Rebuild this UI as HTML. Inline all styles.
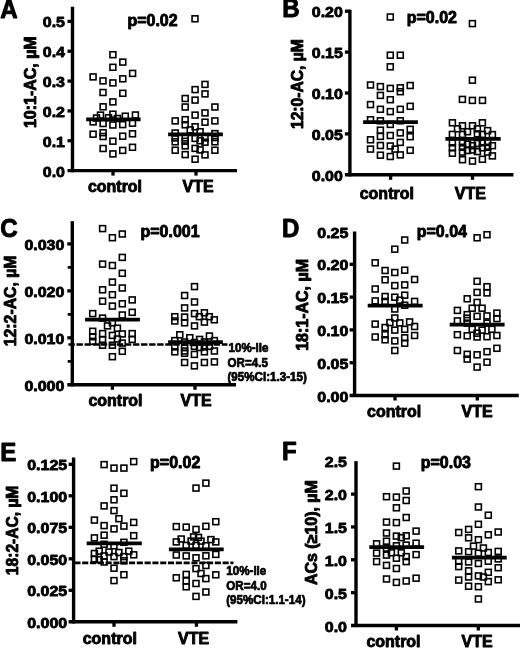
<!DOCTYPE html>
<html><head><meta charset="utf-8"><title>Figure</title>
<style>
html,body{margin:0;padding:0;background:#fff;}
svg{display:block;}
text{font-family:"Liberation Sans",Arial,sans-serif;font-weight:bold;fill:#000;stroke:#000;stroke-width:0.9px;stroke-linejoin:round;}
.tk{font-size:16.4px;text-anchor:end;}
.cat{font-size:16.4px;text-anchor:middle;}
.let{font-size:25.8px;}
.yl{font-size:16.4px;text-anchor:middle;}
.pv{font-size:16.4px;text-anchor:middle;}
.an{font-size:11.9px;stroke-width:0.7px;}
.ax{stroke:#000;stroke-width:3.4;fill:none;}
.tkl{stroke:#000;stroke-width:3.3;fill:none;}
.md{stroke:#000;stroke-width:3.7;fill:none;}
.ds{stroke:#000;stroke-width:2.6;fill:none;}
.pt{fill:none;stroke:#000;stroke-width:1.6;}
</style></head><body>
<svg width="520" height="648" viewBox="0 0 520 648">
<rect width="520" height="648" fill="#fff"/>

<g id="panelA">
<rect class="pt" x="109.95" y="51.75" width="5.9" height="5.9"/>
<rect class="pt" x="119.85" y="59.15" width="5.9" height="5.9"/>
<rect class="pt" x="109.95" y="64.35" width="5.9" height="5.9"/>
<rect class="pt" x="129.65" y="70.45" width="5.9" height="5.9"/>
<rect class="pt" x="90.15" y="73.95" width="5.9" height="5.9"/>
<rect class="pt" x="119.85" y="75.85" width="5.9" height="5.9"/>
<rect class="pt" x="100.05" y="77.95" width="5.9" height="5.9"/>
<rect class="pt" x="109.95" y="79.95" width="5.9" height="5.9"/>
<rect class="pt" x="100.05" y="89.55" width="5.9" height="5.9"/>
<rect class="pt" x="119.85" y="90.35" width="5.9" height="5.9"/>
<rect class="pt" x="109.95" y="98.95" width="5.9" height="5.9"/>
<rect class="pt" x="100.15" y="103.85" width="5.9" height="5.9"/>
<rect class="pt" x="109.95" y="111.25" width="5.9" height="5.9"/>
<rect class="pt" x="132.45" y="112.05" width="5.9" height="5.9"/>
<rect class="pt" x="97.55" y="112.15" width="5.9" height="5.9"/>
<rect class="pt" x="122.35" y="113.25" width="5.9" height="5.9"/>
<rect class="pt" x="93.55" y="115.05" width="5.9" height="5.9"/>
<rect class="pt" x="105.55" y="114.85" width="5.9" height="5.9"/>
<rect class="pt" x="114.55" y="115.55" width="5.9" height="5.9"/>
<rect class="pt" x="90.15" y="118.95" width="5.9" height="5.9"/>
<rect class="pt" x="100.15" y="120.55" width="5.9" height="5.9"/>
<rect class="pt" x="109.95" y="122.05" width="5.9" height="5.9"/>
<rect class="pt" x="119.75" y="121.65" width="5.9" height="5.9"/>
<rect class="pt" x="129.55" y="120.25" width="5.9" height="5.9"/>
<rect class="pt" x="90.15" y="131.25" width="5.9" height="5.9"/>
<rect class="pt" x="100.15" y="129.75" width="5.9" height="5.9"/>
<rect class="pt" x="100.15" y="133.55" width="5.9" height="5.9"/>
<rect class="pt" x="119.75" y="133.25" width="5.9" height="5.9"/>
<rect class="pt" x="129.55" y="130.85" width="5.9" height="5.9"/>
<rect class="pt" x="109.95" y="138.25" width="5.9" height="5.9"/>
<rect class="pt" x="100.15" y="145.55" width="5.9" height="5.9"/>
<rect class="pt" x="129.55" y="144.35" width="5.9" height="5.9"/>
<rect class="pt" x="119.75" y="147.45" width="5.9" height="5.9"/>
<rect class="pt" x="109.95" y="150.95" width="5.9" height="5.9"/>
<rect class="pt" x="192.05" y="15.85" width="5.9" height="5.9"/>
<rect class="pt" x="202.05" y="81.45" width="5.9" height="5.9"/>
<rect class="pt" x="192.15" y="86.65" width="5.9" height="5.9"/>
<rect class="pt" x="202.05" y="90.95" width="5.9" height="5.9"/>
<rect class="pt" x="182.25" y="95.55" width="5.9" height="5.9"/>
<rect class="pt" x="192.15" y="97.15" width="5.9" height="5.9"/>
<rect class="pt" x="182.25" y="104.05" width="5.9" height="5.9"/>
<rect class="pt" x="211.95" y="104.05" width="5.9" height="5.9"/>
<rect class="pt" x="202.05" y="109.95" width="5.9" height="5.9"/>
<rect class="pt" x="192.15" y="112.15" width="5.9" height="5.9"/>
<rect class="pt" x="172.25" y="117.95" width="5.9" height="5.9"/>
<rect class="pt" x="182.25" y="116.75" width="5.9" height="5.9"/>
<rect class="pt" x="211.95" y="117.95" width="5.9" height="5.9"/>
<rect class="pt" x="202.05" y="119.25" width="5.9" height="5.9"/>
<rect class="pt" x="182.25" y="121.85" width="5.9" height="5.9"/>
<rect class="pt" x="192.15" y="123.85" width="5.9" height="5.9"/>
<rect class="pt" x="187.25" y="126.95" width="5.9" height="5.9"/>
<rect class="pt" x="197.15" y="128.75" width="5.9" height="5.9"/>
<rect class="pt" x="172.25" y="130.05" width="5.9" height="5.9"/>
<rect class="pt" x="211.95" y="130.65" width="5.9" height="5.9"/>
<rect class="pt" x="192.15" y="135.45" width="5.9" height="5.9"/>
<rect class="pt" x="172.25" y="134.95" width="5.9" height="5.9"/>
<rect class="pt" x="182.25" y="134.95" width="5.9" height="5.9"/>
<rect class="pt" x="202.05" y="134.95" width="5.9" height="5.9"/>
<rect class="pt" x="211.95" y="134.65" width="5.9" height="5.9"/>
<rect class="pt" x="172.25" y="138.85" width="5.9" height="5.9"/>
<rect class="pt" x="182.25" y="138.35" width="5.9" height="5.9"/>
<rect class="pt" x="197.15" y="137.75" width="5.9" height="5.9"/>
<rect class="pt" x="202.05" y="139.25" width="5.9" height="5.9"/>
<rect class="pt" x="211.95" y="138.85" width="5.9" height="5.9"/>
<rect class="pt" x="182.25" y="142.95" width="5.9" height="5.9"/>
<rect class="pt" x="192.15" y="145.45" width="5.9" height="5.9"/>
<rect class="pt" x="197.15" y="146.95" width="5.9" height="5.9"/>
<rect class="pt" x="172.25" y="147.25" width="5.9" height="5.9"/>
<rect class="pt" x="211.95" y="147.25" width="5.9" height="5.9"/>
<rect class="pt" x="182.25" y="151.65" width="5.9" height="5.9"/>
<rect class="pt" x="202.05" y="151.95" width="5.9" height="5.9"/>
<rect class="pt" x="192.15" y="156.25" width="5.9" height="5.9"/>
<line class="md" x1="86.2" x2="140.6" y1="119.3" y2="119.3"/>
<line class="md" x1="168.1" x2="222.9" y1="134.4" y2="134.4"/>
<line class="ax" x1="72.5" x2="72.5" y1="6.8" y2="172.2"/>
<line class="ax" x1="67.5" x2="237" y1="170.6" y2="170.6"/>
<g transform="translate(65.0,176.6) scale(0.975,0.92)"><text class="tk">0.0</text></g>
<line class="tkl" x1="67.5" x2="72.5" y1="140.76" y2="140.76"/>
<g transform="translate(65.0,146.8) scale(0.975,0.92)"><text class="tk">0.1</text></g>
<line class="tkl" x1="67.5" x2="72.5" y1="110.92" y2="110.92"/>
<g transform="translate(65.0,116.9) scale(0.975,0.92)"><text class="tk">0.2</text></g>
<line class="tkl" x1="67.5" x2="72.5" y1="81.08" y2="81.08"/>
<g transform="translate(65.0,87.1) scale(0.975,0.92)"><text class="tk">0.3</text></g>
<line class="tkl" x1="67.5" x2="72.5" y1="51.24" y2="51.24"/>
<g transform="translate(65.0,57.2) scale(0.975,0.92)"><text class="tk">0.4</text></g>
<line class="tkl" x1="67.5" x2="72.5" y1="21.4" y2="21.4"/>
<g transform="translate(65.0,27.4) scale(0.975,0.92)"><text class="tk">0.5</text></g>
<line class="tkl" x1="113" x2="113" y1="170.6" y2="175.6"/>
<g transform="translate(115,191.6) scale(0.975,0.95)"><text class="cat">control</text></g>
<line class="tkl" x1="196" x2="196" y1="170.6" y2="175.6"/>
<g transform="translate(198,191.6) scale(0.975,0.95)"><text class="cat">VTE</text></g>
<g transform="translate(0.3,18.0) scale(0.935,1)"><text class="let">A</text></g>
<g transform="translate(35.5,82.2) rotate(-90) scale(0.975,0.95)"><text class="yl">10:1-AC, µM</text></g>
<g transform="translate(152.5,25.6) scale(0.975,1.03)"><text class="pv">p=0.02</text></g>
</g>
<g id="panelB">
<rect class="pt" x="387.35" y="14.05" width="5.9" height="5.9"/>
<rect class="pt" x="387.35" y="52.25" width="5.9" height="5.9"/>
<rect class="pt" x="397.35" y="52.25" width="5.9" height="5.9"/>
<rect class="pt" x="387.35" y="63.85" width="5.9" height="5.9"/>
<rect class="pt" x="367.55" y="82.05" width="5.9" height="5.9"/>
<rect class="pt" x="407.25" y="82.55" width="5.9" height="5.9"/>
<rect class="pt" x="377.45" y="83.65" width="5.9" height="5.9"/>
<rect class="pt" x="387.35" y="85.45" width="5.9" height="5.9"/>
<rect class="pt" x="397.35" y="84.85" width="5.9" height="5.9"/>
<rect class="pt" x="397.35" y="88.75" width="5.9" height="5.9"/>
<rect class="pt" x="377.45" y="92.45" width="5.9" height="5.9"/>
<rect class="pt" x="387.35" y="96.75" width="5.9" height="5.9"/>
<rect class="pt" x="367.55" y="101.65" width="5.9" height="5.9"/>
<rect class="pt" x="407.25" y="103.35" width="5.9" height="5.9"/>
<rect class="pt" x="377.45" y="106.35" width="5.9" height="5.9"/>
<rect class="pt" x="397.35" y="106.35" width="5.9" height="5.9"/>
<rect class="pt" x="387.35" y="108.65" width="5.9" height="5.9"/>
<rect class="pt" x="367.55" y="116.85" width="5.9" height="5.9"/>
<rect class="pt" x="377.45" y="117.85" width="5.9" height="5.9"/>
<rect class="pt" x="397.35" y="117.85" width="5.9" height="5.9"/>
<rect class="pt" x="387.35" y="121.45" width="5.9" height="5.9"/>
<rect class="pt" x="377.45" y="127.25" width="5.9" height="5.9"/>
<rect class="pt" x="407.25" y="126.35" width="5.9" height="5.9"/>
<rect class="pt" x="397.35" y="129.95" width="5.9" height="5.9"/>
<rect class="pt" x="387.35" y="132.55" width="5.9" height="5.9"/>
<rect class="pt" x="377.45" y="133.45" width="5.9" height="5.9"/>
<rect class="pt" x="407.25" y="133.75" width="5.9" height="5.9"/>
<rect class="pt" x="367.55" y="136.85" width="5.9" height="5.9"/>
<rect class="pt" x="397.35" y="139.45" width="5.9" height="5.9"/>
<rect class="pt" x="377.45" y="142.55" width="5.9" height="5.9"/>
<rect class="pt" x="387.35" y="143.05" width="5.9" height="5.9"/>
<rect class="pt" x="392.15" y="146.15" width="5.9" height="5.9"/>
<rect class="pt" x="367.55" y="146.15" width="5.9" height="5.9"/>
<rect class="pt" x="407.25" y="147.35" width="5.9" height="5.9"/>
<rect class="pt" x="377.45" y="152.25" width="5.9" height="5.9"/>
<rect class="pt" x="397.35" y="151.95" width="5.9" height="5.9"/>
<rect class="pt" x="387.35" y="153.55" width="5.9" height="5.9"/>
<rect class="pt" x="469.45" y="20.65" width="5.9" height="5.9"/>
<rect class="pt" x="469.45" y="77.25" width="5.9" height="5.9"/>
<rect class="pt" x="459.45" y="96.45" width="5.9" height="5.9"/>
<rect class="pt" x="469.45" y="97.45" width="5.9" height="5.9"/>
<rect class="pt" x="479.55" y="97.45" width="5.9" height="5.9"/>
<rect class="pt" x="449.45" y="119.85" width="5.9" height="5.9"/>
<rect class="pt" x="479.45" y="119.85" width="5.9" height="5.9"/>
<rect class="pt" x="459.55" y="122.85" width="5.9" height="5.9"/>
<rect class="pt" x="469.55" y="122.85" width="5.9" height="5.9"/>
<rect class="pt" x="454.55" y="125.85" width="5.9" height="5.9"/>
<rect class="pt" x="474.45" y="125.85" width="5.9" height="5.9"/>
<rect class="pt" x="484.65" y="127.65" width="5.9" height="5.9"/>
<rect class="pt" x="464.55" y="128.75" width="5.9" height="5.9"/>
<rect class="pt" x="449.45" y="131.45" width="5.9" height="5.9"/>
<rect class="pt" x="489.45" y="131.65" width="5.9" height="5.9"/>
<rect class="pt" x="459.55" y="131.45" width="5.9" height="5.9"/>
<rect class="pt" x="474.45" y="130.85" width="5.9" height="5.9"/>
<rect class="pt" x="479.45" y="131.45" width="5.9" height="5.9"/>
<rect class="pt" x="449.45" y="139.85" width="5.9" height="5.9"/>
<rect class="pt" x="449.45" y="144.85" width="5.9" height="5.9"/>
<rect class="pt" x="449.45" y="150.25" width="5.9" height="5.9"/>
<rect class="pt" x="459.55" y="139.85" width="5.9" height="5.9"/>
<rect class="pt" x="459.55" y="144.35" width="5.9" height="5.9"/>
<rect class="pt" x="459.55" y="149.15" width="5.9" height="5.9"/>
<rect class="pt" x="464.55" y="141.15" width="5.9" height="5.9"/>
<rect class="pt" x="469.55" y="142.75" width="5.9" height="5.9"/>
<rect class="pt" x="474.45" y="140.55" width="5.9" height="5.9"/>
<rect class="pt" x="479.45" y="139.85" width="5.9" height="5.9"/>
<rect class="pt" x="484.65" y="139.45" width="5.9" height="5.9"/>
<rect class="pt" x="489.45" y="142.75" width="5.9" height="5.9"/>
<rect class="pt" x="464.55" y="147.55" width="5.9" height="5.9"/>
<rect class="pt" x="469.55" y="147.05" width="5.9" height="5.9"/>
<rect class="pt" x="474.45" y="148.65" width="5.9" height="5.9"/>
<rect class="pt" x="479.45" y="144.85" width="5.9" height="5.9"/>
<rect class="pt" x="484.65" y="144.35" width="5.9" height="5.9"/>
<rect class="pt" x="484.65" y="149.15" width="5.9" height="5.9"/>
<rect class="pt" x="489.45" y="152.95" width="5.9" height="5.9"/>
<rect class="pt" x="459.55" y="156.75" width="5.9" height="5.9"/>
<rect class="pt" x="479.45" y="156.35" width="5.9" height="5.9"/>
<rect class="pt" x="469.55" y="158.15" width="5.9" height="5.9"/>
<line class="md" x1="363.1" x2="417.9" y1="122.1" y2="122.1"/>
<line class="md" x1="445.4" x2="500.7" y1="138.9" y2="138.9"/>
<line class="ax" x1="349.9" x2="349.9" y1="9.7" y2="176.4"/>
<line class="ax" x1="344.9" x2="513.4" y1="174.8" y2="174.8"/>
<g transform="translate(342.9,180.8) scale(0.975,0.92)"><text class="tk">0.00</text></g>
<line class="tkl" x1="344.9" x2="349.9" y1="133.9" y2="133.9"/>
<g transform="translate(342.9,139.9) scale(0.975,0.92)"><text class="tk">0.05</text></g>
<line class="tkl" x1="344.9" x2="349.9" y1="93.0" y2="93.0"/>
<g transform="translate(342.9,99.0) scale(0.975,0.92)"><text class="tk">0.10</text></g>
<line class="tkl" x1="344.9" x2="349.9" y1="52.1" y2="52.1"/>
<g transform="translate(342.9,58.1) scale(0.975,0.92)"><text class="tk">0.15</text></g>
<line class="tkl" x1="344.9" x2="349.9" y1="11.2" y2="11.2"/>
<g transform="translate(342.9,17.2) scale(0.975,0.92)"><text class="tk">0.20</text></g>
<line class="tkl" x1="390.6" x2="390.6" y1="174.8" y2="179.8"/>
<g transform="translate(386.8,199.4) scale(0.975,0.95)"><text class="cat">control</text></g>
<line class="tkl" x1="472.5" x2="472.5" y1="174.8" y2="179.8"/>
<g transform="translate(470.4,199.4) scale(0.975,0.95)"><text class="cat">VTE</text></g>
<g transform="translate(282.2,16.7) scale(0.935,1)"><text class="let">B</text></g>
<g transform="translate(303.2,84.1) rotate(-90) scale(0.955,0.95)"><text class="yl">12:0-AC, µM</text></g>
<g transform="translate(431.8,22.8) scale(0.975,1.03)"><text class="pv">p=0.02</text></g>
</g>
<g id="panelC">
<rect class="pt" x="99.65" y="225.65" width="5.9" height="5.9"/>
<rect class="pt" x="109.45" y="234.75" width="5.9" height="5.9"/>
<rect class="pt" x="119.35" y="231.05" width="5.9" height="5.9"/>
<rect class="pt" x="119.35" y="254.45" width="5.9" height="5.9"/>
<rect class="pt" x="99.65" y="261.15" width="5.9" height="5.9"/>
<rect class="pt" x="109.45" y="262.55" width="5.9" height="5.9"/>
<rect class="pt" x="119.35" y="270.35" width="5.9" height="5.9"/>
<rect class="pt" x="109.45" y="279.15" width="5.9" height="5.9"/>
<rect class="pt" x="119.35" y="285.05" width="5.9" height="5.9"/>
<rect class="pt" x="99.65" y="286.85" width="5.9" height="5.9"/>
<rect class="pt" x="109.45" y="291.75" width="5.9" height="5.9"/>
<rect class="pt" x="129.25" y="296.95" width="5.9" height="5.9"/>
<rect class="pt" x="99.65" y="298.25" width="5.9" height="5.9"/>
<rect class="pt" x="119.35" y="300.85" width="5.9" height="5.9"/>
<rect class="pt" x="109.45" y="303.15" width="5.9" height="5.9"/>
<rect class="pt" x="129.25" y="309.35" width="5.9" height="5.9"/>
<rect class="pt" x="89.75" y="310.65" width="5.9" height="5.9"/>
<rect class="pt" x="119.35" y="312.05" width="5.9" height="5.9"/>
<rect class="pt" x="99.65" y="315.15" width="5.9" height="5.9"/>
<rect class="pt" x="109.45" y="319.85" width="5.9" height="5.9"/>
<rect class="pt" x="104.55" y="322.95" width="5.9" height="5.9"/>
<rect class="pt" x="114.45" y="325.25" width="5.9" height="5.9"/>
<rect class="pt" x="89.75" y="328.35" width="5.9" height="5.9"/>
<rect class="pt" x="99.65" y="330.65" width="5.9" height="5.9"/>
<rect class="pt" x="129.25" y="330.65" width="5.9" height="5.9"/>
<rect class="pt" x="119.35" y="330.95" width="5.9" height="5.9"/>
<rect class="pt" x="109.45" y="332.45" width="5.9" height="5.9"/>
<rect class="pt" x="89.75" y="333.75" width="5.9" height="5.9"/>
<rect class="pt" x="99.65" y="336.85" width="5.9" height="5.9"/>
<rect class="pt" x="114.45" y="336.05" width="5.9" height="5.9"/>
<rect class="pt" x="129.25" y="336.45" width="5.9" height="5.9"/>
<rect class="pt" x="89.75" y="338.35" width="5.9" height="5.9"/>
<rect class="pt" x="119.35" y="340.15" width="5.9" height="5.9"/>
<rect class="pt" x="99.65" y="342.25" width="5.9" height="5.9"/>
<rect class="pt" x="109.45" y="342.25" width="5.9" height="5.9"/>
<rect class="pt" x="119.35" y="348.35" width="5.9" height="5.9"/>
<rect class="pt" x="109.45" y="353.75" width="5.9" height="5.9"/>
<rect class="pt" x="191.55" y="283.65" width="5.9" height="5.9"/>
<rect class="pt" x="181.65" y="292.55" width="5.9" height="5.9"/>
<rect class="pt" x="191.55" y="299.05" width="5.9" height="5.9"/>
<rect class="pt" x="181.65" y="304.95" width="5.9" height="5.9"/>
<rect class="pt" x="191.55" y="310.65" width="5.9" height="5.9"/>
<rect class="pt" x="201.45" y="309.85" width="5.9" height="5.9"/>
<rect class="pt" x="171.85" y="313.75" width="5.9" height="5.9"/>
<rect class="pt" x="181.65" y="314.15" width="5.9" height="5.9"/>
<rect class="pt" x="196.45" y="313.75" width="5.9" height="5.9"/>
<rect class="pt" x="206.35" y="313.75" width="5.9" height="5.9"/>
<rect class="pt" x="171.85" y="318.05" width="5.9" height="5.9"/>
<rect class="pt" x="211.35" y="316.85" width="5.9" height="5.9"/>
<rect class="pt" x="181.65" y="319.85" width="5.9" height="5.9"/>
<rect class="pt" x="201.45" y="319.15" width="5.9" height="5.9"/>
<rect class="pt" x="191.55" y="322.95" width="5.9" height="5.9"/>
<rect class="pt" x="176.85" y="331.85" width="5.9" height="5.9"/>
<rect class="pt" x="206.45" y="333.05" width="5.9" height="5.9"/>
<rect class="pt" x="186.85" y="334.75" width="5.9" height="5.9"/>
<rect class="pt" x="196.65" y="336.45" width="5.9" height="5.9"/>
<rect class="pt" x="171.85" y="337.65" width="5.9" height="5.9"/>
<rect class="pt" x="211.45" y="337.65" width="5.9" height="5.9"/>
<rect class="pt" x="181.65" y="339.05" width="5.9" height="5.9"/>
<rect class="pt" x="191.55" y="339.55" width="5.9" height="5.9"/>
<rect class="pt" x="201.45" y="339.05" width="5.9" height="5.9"/>
<rect class="pt" x="171.85" y="343.95" width="5.9" height="5.9"/>
<rect class="pt" x="171.85" y="348.85" width="5.9" height="5.9"/>
<rect class="pt" x="181.65" y="344.55" width="5.9" height="5.9"/>
<rect class="pt" x="181.65" y="348.05" width="5.9" height="5.9"/>
<rect class="pt" x="181.65" y="350.35" width="5.9" height="5.9"/>
<rect class="pt" x="191.45" y="343.35" width="5.9" height="5.9"/>
<rect class="pt" x="191.45" y="351.45" width="5.9" height="5.9"/>
<rect class="pt" x="196.65" y="344.55" width="5.9" height="5.9"/>
<rect class="pt" x="201.45" y="343.95" width="5.9" height="5.9"/>
<rect class="pt" x="201.45" y="348.85" width="5.9" height="5.9"/>
<rect class="pt" x="206.45" y="343.35" width="5.9" height="5.9"/>
<rect class="pt" x="211.45" y="348.05" width="5.9" height="5.9"/>
<rect class="pt" x="181.65" y="359.55" width="5.9" height="5.9"/>
<rect class="pt" x="201.45" y="359.55" width="5.9" height="5.9"/>
<rect class="pt" x="211.45" y="358.95" width="5.9" height="5.9"/>
<rect class="pt" x="191.45" y="362.95" width="5.9" height="5.9"/>
<line class="md" x1="85.1" x2="139.9" y1="319.7" y2="319.7"/>
<line class="md" x1="168.1" x2="222.9" y1="342.1" y2="342.1"/>
<line class="ds" stroke-dasharray="6.45 1.62" x1="68.4" x2="227.5" y1="344.5" y2="344.5"/>
<line class="ax" x1="72.3" x2="72.3" y1="221.2" y2="386.40000000000003"/>
<line class="ax" x1="67.3" x2="236" y1="384.8" y2="384.8"/>
<g transform="translate(64.4,390.8) scale(0.975,0.92)"><text class="tk">0.000</text></g>
<line class="tkl" x1="67.3" x2="72.3" y1="337.83" y2="337.83"/>
<g transform="translate(64.4,343.8) scale(0.975,0.92)"><text class="tk">0.010</text></g>
<line class="tkl" x1="67.3" x2="72.3" y1="290.86" y2="290.86"/>
<g transform="translate(64.4,296.9) scale(0.975,0.92)"><text class="tk">0.020</text></g>
<line class="tkl" x1="67.3" x2="72.3" y1="243.89" y2="243.89"/>
<g transform="translate(64.4,249.9) scale(0.975,0.92)"><text class="tk">0.030</text></g>
<line class="tkl" style="stroke-width:2.7" x1="67.7" x2="72.3" y1="361.4" y2="361.4"/>
<line class="tkl" style="stroke-width:2.7" x1="67.7" x2="72.3" y1="314.4" y2="314.4"/>
<line class="tkl" style="stroke-width:2.7" x1="67.7" x2="72.3" y1="267.4" y2="267.4"/>
<line class="tkl" x1="112.4" x2="112.4" y1="384.8" y2="389.8"/>
<g transform="translate(115.5,406) scale(0.975,0.95)"><text class="cat">control</text></g>
<line class="tkl" x1="195" x2="195" y1="384.8" y2="389.8"/>
<g transform="translate(196,406) scale(0.975,0.95)"><text class="cat">VTE</text></g>
<g transform="translate(0.35,236.65) scale(0.935,1)"><text class="let">C</text></g>
<g transform="translate(16.2,300.9) rotate(-90) scale(0.962,0.95)"><text class="yl">12:2-AC, µM</text></g>
<g transform="translate(170,237.4) scale(0.975,1.03)"><text class="pv">p=0.001</text></g>
<g transform="translate(228.5,352.2) scale(0.975,1)"><text class="an">10%-ile</text></g>
<g transform="translate(227.6,366.7) scale(0.975,1)"><text class="an">OR=4.5</text></g>
<g transform="translate(227.5,381.3) scale(0.975,1)"><text class="an">(95%CI:1.3-15)</text></g>
</g>
<g id="panelD">
<rect class="pt" x="401.75" y="237.05" width="5.9" height="5.9"/>
<rect class="pt" x="391.85" y="246.25" width="5.9" height="5.9"/>
<rect class="pt" x="372.25" y="259.85" width="5.9" height="5.9"/>
<rect class="pt" x="382.15" y="267.55" width="5.9" height="5.9"/>
<rect class="pt" x="401.75" y="267.25" width="5.9" height="5.9"/>
<rect class="pt" x="391.85" y="269.55" width="5.9" height="5.9"/>
<rect class="pt" x="382.15" y="276.85" width="5.9" height="5.9"/>
<rect class="pt" x="411.65" y="276.55" width="5.9" height="5.9"/>
<rect class="pt" x="401.75" y="281.95" width="5.9" height="5.9"/>
<rect class="pt" x="391.85" y="282.65" width="5.9" height="5.9"/>
<rect class="pt" x="372.25" y="286.05" width="5.9" height="5.9"/>
<rect class="pt" x="401.75" y="292.25" width="5.9" height="5.9"/>
<rect class="pt" x="382.15" y="293.55" width="5.9" height="5.9"/>
<rect class="pt" x="391.85" y="294.25" width="5.9" height="5.9"/>
<rect class="pt" x="396.85" y="297.25" width="5.9" height="5.9"/>
<rect class="pt" x="372.25" y="297.95" width="5.9" height="5.9"/>
<rect class="pt" x="382.15" y="298.45" width="5.9" height="5.9"/>
<rect class="pt" x="411.65" y="298.45" width="5.9" height="5.9"/>
<rect class="pt" x="401.75" y="302.25" width="5.9" height="5.9"/>
<rect class="pt" x="391.85" y="306.05" width="5.9" height="5.9"/>
<rect class="pt" x="391.85" y="315.05" width="5.9" height="5.9"/>
<rect class="pt" x="386.95" y="319.65" width="5.9" height="5.9"/>
<rect class="pt" x="396.85" y="319.95" width="5.9" height="5.9"/>
<rect class="pt" x="406.65" y="318.95" width="5.9" height="5.9"/>
<rect class="pt" x="372.25" y="321.15" width="5.9" height="5.9"/>
<rect class="pt" x="411.65" y="323.55" width="5.9" height="5.9"/>
<rect class="pt" x="382.15" y="324.55" width="5.9" height="5.9"/>
<rect class="pt" x="401.75" y="326.35" width="5.9" height="5.9"/>
<rect class="pt" x="391.85" y="327.15" width="5.9" height="5.9"/>
<rect class="pt" x="382.15" y="331.75" width="5.9" height="5.9"/>
<rect class="pt" x="411.65" y="332.55" width="5.9" height="5.9"/>
<rect class="pt" x="372.25" y="334.05" width="5.9" height="5.9"/>
<rect class="pt" x="401.75" y="334.85" width="5.9" height="5.9"/>
<rect class="pt" x="382.15" y="336.85" width="5.9" height="5.9"/>
<rect class="pt" x="391.85" y="337.95" width="5.9" height="5.9"/>
<rect class="pt" x="401.75" y="340.25" width="5.9" height="5.9"/>
<rect class="pt" x="391.85" y="347.55" width="5.9" height="5.9"/>
<rect class="pt" x="474.15" y="234.85" width="5.9" height="5.9"/>
<rect class="pt" x="484.05" y="231.75" width="5.9" height="5.9"/>
<rect class="pt" x="474.15" y="278.35" width="5.9" height="5.9"/>
<rect class="pt" x="484.05" y="283.75" width="5.9" height="5.9"/>
<rect class="pt" x="474.15" y="289.45" width="5.9" height="5.9"/>
<rect class="pt" x="484.05" y="289.95" width="5.9" height="5.9"/>
<rect class="pt" x="464.25" y="295.85" width="5.9" height="5.9"/>
<rect class="pt" x="474.15" y="299.45" width="5.9" height="5.9"/>
<rect class="pt" x="469.25" y="305.25" width="5.9" height="5.9"/>
<rect class="pt" x="479.15" y="305.25" width="5.9" height="5.9"/>
<rect class="pt" x="454.45" y="307.45" width="5.9" height="5.9"/>
<rect class="pt" x="493.95" y="310.15" width="5.9" height="5.9"/>
<rect class="pt" x="464.25" y="311.65" width="5.9" height="5.9"/>
<rect class="pt" x="484.05" y="312.95" width="5.9" height="5.9"/>
<rect class="pt" x="474.15" y="313.35" width="5.9" height="5.9"/>
<rect class="pt" x="464.25" y="315.15" width="5.9" height="5.9"/>
<rect class="pt" x="493.95" y="315.65" width="5.9" height="5.9"/>
<rect class="pt" x="454.45" y="317.95" width="5.9" height="5.9"/>
<rect class="pt" x="464.25" y="320.15" width="5.9" height="5.9"/>
<rect class="pt" x="484.05" y="320.15" width="5.9" height="5.9"/>
<rect class="pt" x="469.25" y="326.35" width="5.9" height="5.9"/>
<rect class="pt" x="479.15" y="327.15" width="5.9" height="5.9"/>
<rect class="pt" x="488.95" y="326.35" width="5.9" height="5.9"/>
<rect class="pt" x="474.15" y="330.25" width="5.9" height="5.9"/>
<rect class="pt" x="454.45" y="331.75" width="5.9" height="5.9"/>
<rect class="pt" x="464.25" y="332.85" width="5.9" height="5.9"/>
<rect class="pt" x="493.95" y="332.55" width="5.9" height="5.9"/>
<rect class="pt" x="474.15" y="334.05" width="5.9" height="5.9"/>
<rect class="pt" x="484.05" y="333.75" width="5.9" height="5.9"/>
<rect class="pt" x="493.95" y="345.35" width="5.9" height="5.9"/>
<rect class="pt" x="454.45" y="347.55" width="5.9" height="5.9"/>
<rect class="pt" x="484.05" y="348.75" width="5.9" height="5.9"/>
<rect class="pt" x="464.25" y="351.35" width="5.9" height="5.9"/>
<rect class="pt" x="474.15" y="351.85" width="5.9" height="5.9"/>
<rect class="pt" x="464.25" y="356.15" width="5.9" height="5.9"/>
<rect class="pt" x="484.05" y="359.25" width="5.9" height="5.9"/>
<rect class="pt" x="474.15" y="364.15" width="5.9" height="5.9"/>
<line class="md" x1="367.7" x2="422.6" y1="305.7" y2="305.7"/>
<line class="md" x1="449.7" x2="504.6" y1="324.6" y2="324.6"/>
<line class="ax" x1="354.6" x2="354.6" y1="231.6" y2="397.1"/>
<line class="ax" x1="349.6" x2="518.8" y1="395.5" y2="395.5"/>
<g transform="translate(348.4,401.5) scale(0.975,0.92)"><text class="tk">0.00</text></g>
<line class="tkl" x1="349.6" x2="354.6" y1="362.7" y2="362.7"/>
<g transform="translate(348.4,368.7) scale(0.975,0.92)"><text class="tk">0.05</text></g>
<line class="tkl" x1="349.6" x2="354.6" y1="329.9" y2="329.9"/>
<g transform="translate(348.4,335.9) scale(0.975,0.92)"><text class="tk">0.10</text></g>
<line class="tkl" x1="349.6" x2="354.6" y1="297.1" y2="297.1"/>
<g transform="translate(348.4,303.1) scale(0.975,0.92)"><text class="tk">0.15</text></g>
<line class="tkl" x1="349.6" x2="354.6" y1="264.3" y2="264.3"/>
<g transform="translate(348.4,270.3) scale(0.975,0.92)"><text class="tk">0.20</text></g>
<g transform="translate(348.4,237.5) scale(0.975,0.92)"><text class="tk">0.25</text></g>
<line class="tkl" x1="395" x2="395" y1="395.5" y2="400.5"/>
<g transform="translate(394.1,417.1) scale(0.975,0.95)"><text class="cat">control</text></g>
<line class="tkl" x1="477.3" x2="477.3" y1="395.5" y2="400.5"/>
<g transform="translate(477,417.1) scale(0.975,0.95)"><text class="cat">VTE</text></g>
<g transform="translate(282.05,236.85) scale(0.935,1)"><text class="let">D</text></g>
<g transform="translate(308.3,304.9) rotate(-90) scale(0.975,0.95)"><text class="yl">18:1-AC, µM</text></g>
<g transform="translate(441.8,237) scale(0.975,1.03)"><text class="pv">p=0.04</text></g>
</g>
<g id="panelE">
<rect class="pt" x="101.15" y="461.65" width="5.9" height="5.9"/>
<rect class="pt" x="130.75" y="458.65" width="5.9" height="5.9"/>
<rect class="pt" x="111.05" y="465.15" width="5.9" height="5.9"/>
<rect class="pt" x="120.95" y="465.15" width="5.9" height="5.9"/>
<rect class="pt" x="111.05" y="485.25" width="5.9" height="5.9"/>
<rect class="pt" x="120.95" y="490.35" width="5.9" height="5.9"/>
<rect class="pt" x="111.05" y="496.85" width="5.9" height="5.9"/>
<rect class="pt" x="101.15" y="502.95" width="5.9" height="5.9"/>
<rect class="pt" x="111.05" y="507.65" width="5.9" height="5.9"/>
<rect class="pt" x="115.95" y="515.75" width="5.9" height="5.9"/>
<rect class="pt" x="91.45" y="517.15" width="5.9" height="5.9"/>
<rect class="pt" x="130.75" y="519.45" width="5.9" height="5.9"/>
<rect class="pt" x="101.15" y="522.65" width="5.9" height="5.9"/>
<rect class="pt" x="120.95" y="523.15" width="5.9" height="5.9"/>
<rect class="pt" x="111.05" y="525.95" width="5.9" height="5.9"/>
<rect class="pt" x="101.15" y="532.25" width="5.9" height="5.9"/>
<rect class="pt" x="130.75" y="532.75" width="5.9" height="5.9"/>
<rect class="pt" x="91.45" y="534.95" width="5.9" height="5.9"/>
<rect class="pt" x="120.95" y="539.35" width="5.9" height="5.9"/>
<rect class="pt" x="101.15" y="541.35" width="5.9" height="5.9"/>
<rect class="pt" x="111.05" y="542.85" width="5.9" height="5.9"/>
<rect class="pt" x="96.25" y="548.25" width="5.9" height="5.9"/>
<rect class="pt" x="106.05" y="549.05" width="5.9" height="5.9"/>
<rect class="pt" x="115.95" y="549.55" width="5.9" height="5.9"/>
<rect class="pt" x="125.85" y="548.25" width="5.9" height="5.9"/>
<rect class="pt" x="91.45" y="550.55" width="5.9" height="5.9"/>
<rect class="pt" x="130.75" y="551.85" width="5.9" height="5.9"/>
<rect class="pt" x="101.15" y="552.95" width="5.9" height="5.9"/>
<rect class="pt" x="111.05" y="553.65" width="5.9" height="5.9"/>
<rect class="pt" x="120.95" y="553.65" width="5.9" height="5.9"/>
<rect class="pt" x="91.45" y="556.05" width="5.9" height="5.9"/>
<rect class="pt" x="96.25" y="556.75" width="5.9" height="5.9"/>
<rect class="pt" x="101.15" y="559.05" width="5.9" height="5.9"/>
<rect class="pt" x="120.95" y="557.85" width="5.9" height="5.9"/>
<rect class="pt" x="111.05" y="565.25" width="5.9" height="5.9"/>
<rect class="pt" x="120.95" y="571.75" width="5.9" height="5.9"/>
<rect class="pt" x="111.05" y="577.65" width="5.9" height="5.9"/>
<rect class="pt" x="202.95" y="480.15" width="5.9" height="5.9"/>
<rect class="pt" x="193.05" y="485.15" width="5.9" height="5.9"/>
<rect class="pt" x="212.85" y="518.75" width="5.9" height="5.9"/>
<rect class="pt" x="173.35" y="523.65" width="5.9" height="5.9"/>
<rect class="pt" x="183.25" y="524.15" width="5.9" height="5.9"/>
<rect class="pt" x="202.95" y="523.35" width="5.9" height="5.9"/>
<rect class="pt" x="193.05" y="526.45" width="5.9" height="5.9"/>
<rect class="pt" x="190.65" y="533.95" width="5.9" height="5.9"/>
<rect class="pt" x="195.55" y="534.45" width="5.9" height="5.9"/>
<rect class="pt" x="178.25" y="536.05" width="5.9" height="5.9"/>
<rect class="pt" x="207.95" y="536.65" width="5.9" height="5.9"/>
<rect class="pt" x="188.15" y="538.15" width="5.9" height="5.9"/>
<rect class="pt" x="198.05" y="538.15" width="5.9" height="5.9"/>
<rect class="pt" x="173.35" y="538.95" width="5.9" height="5.9"/>
<rect class="pt" x="212.85" y="538.95" width="5.9" height="5.9"/>
<rect class="pt" x="183.25" y="542.45" width="5.9" height="5.9"/>
<rect class="pt" x="193.05" y="542.45" width="5.9" height="5.9"/>
<rect class="pt" x="202.95" y="542.75" width="5.9" height="5.9"/>
<rect class="pt" x="173.35" y="552.05" width="5.9" height="5.9"/>
<rect class="pt" x="183.25" y="552.95" width="5.9" height="5.9"/>
<rect class="pt" x="202.95" y="552.85" width="5.9" height="5.9"/>
<rect class="pt" x="212.85" y="551.45" width="5.9" height="5.9"/>
<rect class="pt" x="193.05" y="554.85" width="5.9" height="5.9"/>
<rect class="pt" x="202.95" y="562.55" width="5.9" height="5.9"/>
<rect class="pt" x="193.05" y="565.65" width="5.9" height="5.9"/>
<rect class="pt" x="198.05" y="570.55" width="5.9" height="5.9"/>
<rect class="pt" x="183.25" y="571.45" width="5.9" height="5.9"/>
<rect class="pt" x="212.85" y="571.85" width="5.9" height="5.9"/>
<rect class="pt" x="173.35" y="574.85" width="5.9" height="5.9"/>
<rect class="pt" x="202.95" y="575.65" width="5.9" height="5.9"/>
<rect class="pt" x="183.25" y="577.95" width="5.9" height="5.9"/>
<rect class="pt" x="193.05" y="580.55" width="5.9" height="5.9"/>
<rect class="pt" x="183.25" y="583.85" width="5.9" height="5.9"/>
<rect class="pt" x="202.95" y="589.05" width="5.9" height="5.9"/>
<rect class="pt" x="193.05" y="593.45" width="5.9" height="5.9"/>
<line class="md" x1="86.7" x2="141.8" y1="543.4" y2="543.4"/>
<line class="md" x1="168.9" x2="223.7" y1="549.3" y2="549.3"/>
<line class="ds" stroke-dasharray="6.1 1.7" x1="74.4" x2="233.5" y1="562.9" y2="562.9"/>
<line class="ax" x1="73.6" x2="73.6" y1="457.4" y2="623.4"/>
<line class="ax" x1="68.6" x2="237.4" y1="621.8" y2="621.8"/>
<g transform="translate(67.2,627.8) scale(0.975,0.92)"><text class="tk">0.000</text></g>
<line class="tkl" x1="68.6" x2="73.6" y1="590.3" y2="590.3"/>
<g transform="translate(67.2,596.3) scale(0.975,0.92)"><text class="tk">0.025</text></g>
<line class="tkl" x1="68.6" x2="73.6" y1="558.8" y2="558.8"/>
<g transform="translate(67.2,564.8) scale(0.975,0.92)"><text class="tk">0.050</text></g>
<line class="tkl" x1="68.6" x2="73.6" y1="527.3" y2="527.3"/>
<g transform="translate(67.2,533.3) scale(0.975,0.92)"><text class="tk">0.075</text></g>
<line class="tkl" x1="68.6" x2="73.6" y1="495.8" y2="495.8"/>
<g transform="translate(67.2,501.8) scale(0.975,0.92)"><text class="tk">0.100</text></g>
<line class="tkl" x1="68.6" x2="73.6" y1="464.3" y2="464.3"/>
<g transform="translate(67.2,470.3) scale(0.975,0.92)"><text class="tk">0.125</text></g>
<line class="tkl" x1="114" x2="114" y1="621.8" y2="626.8"/>
<g transform="translate(109.8,643.6) scale(0.975,0.95)"><text class="cat">control</text></g>
<line class="tkl" x1="196.4" x2="196.4" y1="621.8" y2="626.8"/>
<g transform="translate(193.5,643.6) scale(0.975,0.95)"><text class="cat">VTE</text></g>
<g transform="translate(0.15,460.65) scale(0.935,1)"><text class="let">E</text></g>
<g transform="translate(18.3,530.4) rotate(-90) scale(0.95,0.95)"><text class="yl">18:2-AC, µM</text></g>
<g transform="translate(175.2,467.6) scale(0.975,1.03)"><text class="pv">p=0.02</text></g>
<g transform="translate(226.3,575.3) scale(0.975,1)"><text class="an">10%-ile</text></g>
<g transform="translate(226.3,589.6) scale(0.975,1)"><text class="an">OR=4.0</text></g>
<g transform="translate(226.2,603.5) scale(0.975,1)"><text class="an">(95%CI:1.1-14)</text></g>
</g>
<g id="panelF">
<rect class="pt" x="393.45" y="463.15" width="5.9" height="5.9"/>
<rect class="pt" x="403.25" y="488.05" width="5.9" height="5.9"/>
<rect class="pt" x="383.55" y="493.75" width="5.9" height="5.9"/>
<rect class="pt" x="393.45" y="494.15" width="5.9" height="5.9"/>
<rect class="pt" x="403.25" y="497.55" width="5.9" height="5.9"/>
<rect class="pt" x="393.45" y="504.85" width="5.9" height="5.9"/>
<rect class="pt" x="403.25" y="514.55" width="5.9" height="5.9"/>
<rect class="pt" x="383.55" y="519.15" width="5.9" height="5.9"/>
<rect class="pt" x="393.45" y="519.65" width="5.9" height="5.9"/>
<rect class="pt" x="413.15" y="528.15" width="5.9" height="5.9"/>
<rect class="pt" x="383.55" y="530.05" width="5.9" height="5.9"/>
<rect class="pt" x="393.45" y="533.15" width="5.9" height="5.9"/>
<rect class="pt" x="403.25" y="532.85" width="5.9" height="5.9"/>
<rect class="pt" x="398.35" y="534.75" width="5.9" height="5.9"/>
<rect class="pt" x="383.55" y="538.25" width="5.9" height="5.9"/>
<rect class="pt" x="373.65" y="540.85" width="5.9" height="5.9"/>
<rect class="pt" x="413.15" y="540.25" width="5.9" height="5.9"/>
<rect class="pt" x="403.25" y="542.15" width="5.9" height="5.9"/>
<rect class="pt" x="393.45" y="542.85" width="5.9" height="5.9"/>
<rect class="pt" x="383.55" y="545.15" width="5.9" height="5.9"/>
<rect class="pt" x="373.65" y="550.15" width="5.9" height="5.9"/>
<rect class="pt" x="388.45" y="549.85" width="5.9" height="5.9"/>
<rect class="pt" x="398.35" y="549.85" width="5.9" height="5.9"/>
<rect class="pt" x="413.15" y="551.65" width="5.9" height="5.9"/>
<rect class="pt" x="383.55" y="552.15" width="5.9" height="5.9"/>
<rect class="pt" x="403.25" y="553.65" width="5.9" height="5.9"/>
<rect class="pt" x="393.45" y="555.25" width="5.9" height="5.9"/>
<rect class="pt" x="373.65" y="558.65" width="5.9" height="5.9"/>
<rect class="pt" x="403.25" y="558.65" width="5.9" height="5.9"/>
<rect class="pt" x="383.55" y="562.45" width="5.9" height="5.9"/>
<rect class="pt" x="393.45" y="565.55" width="5.9" height="5.9"/>
<rect class="pt" x="413.15" y="575.25" width="5.9" height="5.9"/>
<rect class="pt" x="383.55" y="576.05" width="5.9" height="5.9"/>
<rect class="pt" x="403.25" y="578.05" width="5.9" height="5.9"/>
<rect class="pt" x="393.45" y="579.45" width="5.9" height="5.9"/>
<rect class="pt" x="475.45" y="483.75" width="5.9" height="5.9"/>
<rect class="pt" x="475.45" y="504.05" width="5.9" height="5.9"/>
<rect class="pt" x="485.35" y="512.25" width="5.9" height="5.9"/>
<rect class="pt" x="475.45" y="521.35" width="5.9" height="5.9"/>
<rect class="pt" x="465.65" y="526.45" width="5.9" height="5.9"/>
<rect class="pt" x="495.25" y="529.05" width="5.9" height="5.9"/>
<rect class="pt" x="455.75" y="529.55" width="5.9" height="5.9"/>
<rect class="pt" x="485.35" y="531.85" width="5.9" height="5.9"/>
<rect class="pt" x="465.65" y="534.85" width="5.9" height="5.9"/>
<rect class="pt" x="475.45" y="536.75" width="5.9" height="5.9"/>
<rect class="pt" x="470.55" y="543.15" width="5.9" height="5.9"/>
<rect class="pt" x="480.45" y="545.05" width="5.9" height="5.9"/>
<rect class="pt" x="455.75" y="547.95" width="5.9" height="5.9"/>
<rect class="pt" x="495.25" y="548.45" width="5.9" height="5.9"/>
<rect class="pt" x="465.65" y="548.75" width="5.9" height="5.9"/>
<rect class="pt" x="485.35" y="549.55" width="5.9" height="5.9"/>
<rect class="pt" x="475.45" y="550.25" width="5.9" height="5.9"/>
<rect class="pt" x="455.75" y="558.25" width="5.9" height="5.9"/>
<rect class="pt" x="465.65" y="559.05" width="5.9" height="5.9"/>
<rect class="pt" x="485.35" y="558.25" width="5.9" height="5.9"/>
<rect class="pt" x="495.25" y="555.95" width="5.9" height="5.9"/>
<rect class="pt" x="475.45" y="560.55" width="5.9" height="5.9"/>
<rect class="pt" x="455.75" y="563.65" width="5.9" height="5.9"/>
<rect class="pt" x="495.25" y="564.75" width="5.9" height="5.9"/>
<rect class="pt" x="465.65" y="567.85" width="5.9" height="5.9"/>
<rect class="pt" x="485.35" y="569.35" width="5.9" height="5.9"/>
<rect class="pt" x="475.45" y="572.95" width="5.9" height="5.9"/>
<rect class="pt" x="465.65" y="574.05" width="5.9" height="5.9"/>
<rect class="pt" x="480.45" y="574.05" width="5.9" height="5.9"/>
<rect class="pt" x="455.75" y="577.15" width="5.9" height="5.9"/>
<rect class="pt" x="495.25" y="576.85" width="5.9" height="5.9"/>
<rect class="pt" x="485.35" y="578.65" width="5.9" height="5.9"/>
<rect class="pt" x="465.65" y="583.25" width="5.9" height="5.9"/>
<rect class="pt" x="475.45" y="583.75" width="5.9" height="5.9"/>
<rect class="pt" x="475.45" y="596.05" width="5.9" height="5.9"/>
<line class="md" x1="369.3" x2="424.1" y1="547.1" y2="547.1"/>
<line class="md" x1="451.9" x2="506.7" y1="557.7" y2="557.7"/>
<line class="ax" x1="356" x2="356" y1="461.1" y2="627.1"/>
<line class="ax" x1="351" x2="521" y1="625.5" y2="625.5"/>
<g transform="translate(347,631.5) scale(0.975,0.92)"><text class="tk">0.0</text></g>
<line class="tkl" x1="351" x2="356" y1="592.65" y2="592.65"/>
<g transform="translate(347,598.6) scale(0.975,0.92)"><text class="tk">0.5</text></g>
<line class="tkl" x1="351" x2="356" y1="559.8" y2="559.8"/>
<g transform="translate(347,565.8) scale(0.975,0.92)"><text class="tk">1.0</text></g>
<line class="tkl" x1="351" x2="356" y1="526.95" y2="526.95"/>
<g transform="translate(347,533.0) scale(0.975,0.92)"><text class="tk">1.5</text></g>
<line class="tkl" x1="351" x2="356" y1="494.1" y2="494.1"/>
<g transform="translate(347,500.1) scale(0.975,0.92)"><text class="tk">2.0</text></g>
<g transform="translate(347,467.2) scale(0.975,0.92)"><text class="tk">2.5</text></g>
<line class="tkl" x1="396.4" x2="396.4" y1="625.5" y2="630.5"/>
<g transform="translate(393.5,647.1) scale(0.975,0.95)"><text class="cat">control</text></g>
<line class="tkl" x1="478.3" x2="478.3" y1="625.5" y2="630.5"/>
<g transform="translate(477,647.1) scale(0.975,0.95)"><text class="cat">VTE</text></g>
<g transform="translate(282.05,460.45) scale(0.935,1)"><text class="let">F</text></g>
<g transform="translate(317.1,532.6) rotate(-90) scale(0.975,0.95)"><text class="yl">ACs (≥10), µM</text></g>
<g transform="translate(445.8,467.6) scale(0.975,1.03)"><text class="pv">p=0.03</text></g>
</g>
</svg></body></html>
